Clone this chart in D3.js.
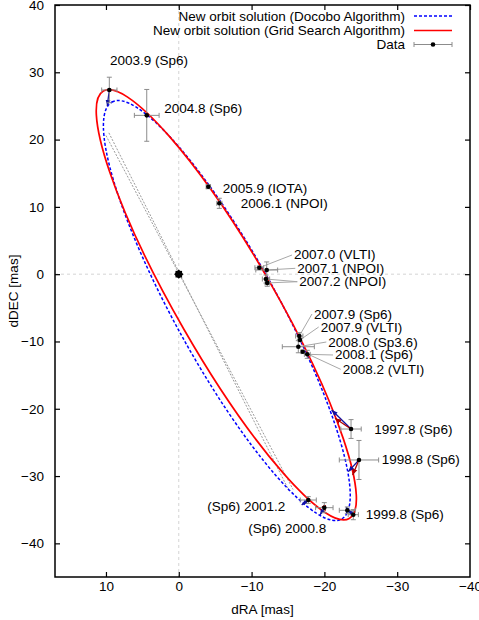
<!DOCTYPE html>
<html><head><meta charset="utf-8">
<script src="https://cdn.jsdelivr.net/npm/d3@7"></script>
<style>body{margin:0;background:#fff;} text{font-family:"Liberation Sans",Arial,Helvetica,sans-serif;}</style>
</head><body><svg id="c" width="479" height="620"></svg>
<script>
// ---------------- data ----------------
const xTicks = [10, 0, -10, -20, -30, -40];
const yTicks = [40, 30, 20, 10, 0, -10, -20, -30, -40];
const xLimits = [17, -40];
const yLimits = [-45, 40];
const seriesNames = ["New orbit solution (Docobo Algorithm)", "New orbit solution (Grid Search Algorithm)", "Data"];

// apparent orbit ellipses (Docobo, Grid Search), in mas / degrees
const orbitCenterRA  = [-6.6, -6.53];
const orbitCenterDEC = [-5.4, -4.55];
const orbitSemiMajor = [34.77, 35.97];
const orbitSemiMinor = [7.225, 6.85];
const orbitAngle     = [63.2, 62.14];   // from +dRA towards +dDEC
const nodeLineDocobo = [[10.0,20.6],[-15.7,-32.0]];
const nodeLineGrid   = [[9.6,21.0],[-15.2,-32.3]];

// observations
const obsRA     = [-23.66,-24.75,-23.15,-23.97,-19.99,-17.79, 9.54, 4.40,-4.06,-5.57,-11.06,-12.08,-11.98,-12.15,-16.55,-16.65,-16.42,-17.65,-17.02];
const obsDEC    = [-23.01,-27.61,-35.09,-35.74,-34.70,-33.56,27.37,23.60,13.00,10.53,  0.96,  0.62, -0.72, -1.30, -9.19, -9.78,-10.78,-11.91,-11.52];
const obsErrRA  = [ 1.40,  2.70,  1.10,  0.70,  1.20,  1.10, 1.05, 1.70, 0.30, 0.35,  0.60,  1.50,  0.50,  0.30,  0.50,  0.20,  2.20,  0.40,  0.20];
const obsErrDEC = [ 1.40,  2.90,  0.50,  0.75,  0.75,  0.50, 1.90, 3.85, 0.30, 0.75,  0.25,  1.20,  0.60,  0.50,  0.50,  0.20,  0.90,  0.60,  0.20];
// predicted positions (residual vectors) for some observations
const modelDocobo = [[-21.0,-20.18],[-23.28,-29.35],[-23.0,-34.6],[-23.2,-35.0],[-19.4,-35.79],[-16.88,-34.3],[9.82,24.99],null,null,null,null,null,null,null,null,null,null,null,null];
const modelGrid   = [[-21.46,-21.42],[-23.89,-29.84],null,null,[-20.1,-35.2],null,null,null,null,null,null,null,null,null,null,null,null,null,null];

// labels
const labelText = ["1997.8 (Sp6)","1998.8 (Sp6)","1999.8 (Sp6)","(Sp6) 2000.8","(Sp6) 2001.2","2003.9 (Sp6)","2004.8 (Sp6)","2005.9 (IOTA)","2006.1 (NPOI)","2007.0 (VLTI)","2007.1 (NPOI)","2007.2 (NPOI)","2007.9 (Sp6)","2007.9 (VLTI)","2008.0 (Sp3.6)","2008.1 (Sp6)","2008.2 (VLTI)"];
const labelRA   = [-26.86,-27.87,-25.67,-9.55,-3.92, 9.45, 1.99,-6.03,-8.50,-15.83,-16.28,-16.55,-18.57,-19.49,-20.54,-21.46,-22.52];
const labelDEC  = [-23.05,-27.61,-35.68,-37.76,-34.55,31.80,24.60,12.76,10.53, 2.85,  0.87, -1.12, -5.92, -7.85,-10.08,-12.01,-14.14];
const labelLeaders = [[],[],[],[],[],[],[],[],[],[10],[11],[12,13],[14],[15],[16],[17],[18]];

// ---------------- drawing ----------------
const svg = d3.select("#c");
const L = 55, R = 470, T = 5, B = 577;
const x = d3.scaleLinear().domain(xLimits).range([L, R]);
const y = d3.scaleLinear().domain(yLimits).range([B, T]);
const FS = "13.5px";

// zero lines
svg.append("line").attr("x1", x(0)).attr("x2", x(0)).attr("y1", T).attr("y2", B)
  .attr("stroke", "#d4d4d4").attr("stroke-dasharray", "3,3");
svg.append("line").attr("x1", L).attr("x2", R).attr("y1", y(0)).attr("y2", y(0))
  .attr("stroke", "#d4d4d4").attr("stroke-dasharray", "3,3");

// axes with inward ticks
const gx = svg.append("g").attr("transform", `translate(0,${B})`)
  .call(d3.axisBottom(x).tickValues(xTicks).tickSize(-5).tickPadding(4).tickFormat(d3.format("d")));
const gxt = svg.append("g").attr("transform", `translate(0,${T})`)
  .call(d3.axisTop(x).tickValues(xTicks).tickSize(-5).tickFormat(""));
const gy = svg.append("g").attr("transform", `translate(${L},0)`)
  .call(d3.axisLeft(y).tickValues(yTicks).tickSize(-5).tickPadding(11).tickFormat(d3.format("d")));
const gyr = svg.append("g").attr("transform", `translate(${R},0)`)
  .call(d3.axisRight(y).tickValues(yTicks).tickSize(-5).tickFormat(""));
[gx, gxt, gy, gyr].forEach(g => {
  g.select(".domain").remove();
  g.selectAll(".tick line").attr("stroke", "#000").attr("stroke-width", 1.2);
  g.selectAll("text").attr("font-size", FS).attr("fill", "#000")
    .style("font-family", '"Liberation Sans",Arial,Helvetica,sans-serif');
});
gx.selectAll(".tick").filter(d => d === -40).select("line").remove();

// node lines
const line = d3.line().x(d => x(d[0])).y(d => y(d[1]));
[nodeLineDocobo, nodeLineGrid].forEach(nl => {
  svg.append("path").attr("d", line(nl)).attr("fill", "none")
    .attr("stroke", "#9a9a9a").attr("stroke-width", 1).attr("stroke-dasharray", "2,1.5");
});

// orbits: map each data-space ellipse through the scales into a pixel-space ellipse
function pixelEllipse(i) {
  const t = orbitAngle[i] * Math.PI / 180, a = orbitSemiMajor[i], b = orbitSemiMinor[i];
  const kx = x(1) - x(0), ky = y(1) - y(0);
  const m11 = kx * Math.cos(t) * a, m12 = -kx * Math.sin(t) * b;
  const m21 = ky * Math.sin(t) * a, m22 = ky * Math.cos(t) * b;
  const E = (m11 + m22) / 2, F = (m11 - m22) / 2, G = (m21 + m12) / 2, H = (m21 - m12) / 2;
  const Q = Math.hypot(E, H), Rr = Math.hypot(F, G);
  const phi = (Math.atan2(H, E) + Math.atan2(G, F)) / 2;
  return { cx: x(orbitCenterRA[i]), cy: y(orbitCenterDEC[i]), rx: Q + Rr, ry: Math.abs(Q - Rr), rot: phi * 180 / Math.PI };
}
const orbitStyle = [
  { stroke: "#0000ff", width: 1.5, dash: "3,2" },
  { stroke: "#ff0000", width: 1.7, dash: null }
];
[0, 1].forEach(i => {
  const e = pixelEllipse(i);
  svg.append("ellipse").attr("cx", e.cx).attr("cy", e.cy).attr("rx", e.rx).attr("ry", e.ry)
    .attr("transform", `rotate(${e.rot},${e.cx},${e.cy})`)
    .attr("fill", "none").attr("stroke", orbitStyle[i].stroke).attr("stroke-width", orbitStyle[i].width)
    .attr("stroke-dasharray", orbitStyle[i].dash);
});

// arrow markers
const defs = svg.append("defs");
[["ab", "#1010a0"], ["ar", "#b00000"]].forEach(([id, col]) => {
  defs.append("marker").attr("id", id).attr("viewBox", "0 0 10 10").attr("refX", 10).attr("refY", 5)
    .attr("markerWidth", 6).attr("markerHeight", 6).attr("markerUnits", "userSpaceOnUse").attr("orient", "auto")
    .append("path").attr("d", "M0,1L10,5L0,9Z").attr("fill", col);
});

const idx = d3.range(obsRA.length);
// residual vectors
idx.forEach(i => {
  if (modelDocobo[i]) svg.append("line").attr("x1", x(obsRA[i])).attr("y1", y(obsDEC[i]))
    .attr("x2", x(modelDocobo[i][0])).attr("y2", y(modelDocobo[i][1]))
    .attr("stroke", "#1010a0").attr("stroke-width", 1.3).attr("marker-end", "url(#ab)");
  if (modelGrid[i]) svg.append("line").attr("x1", x(obsRA[i])).attr("y1", y(obsDEC[i]))
    .attr("x2", x(modelGrid[i][0])).attr("y2", y(modelGrid[i][1]))
    .attr("stroke", "#b00000").attr("stroke-width", 1.3).attr("marker-end", "url(#ar)");
});

// leader lines
labelText.forEach((t, j) => {
  labelLeaders[j].forEach(i => {
    svg.append("line").attr("x1", x(labelRA[j]) - 2).attr("y1", y(labelDEC[j]))
      .attr("x2", x(obsRA[i])).attr("y2", y(obsDEC[i]))
      .attr("stroke", "#a8a8a8").attr("stroke-width", 1);
  });
});

// error bars
const eb = svg.append("g").attr("stroke", "#8c8c8c").attr("stroke-width", 1).attr("fill", "none");
const cap = 2.5;
idx.forEach(i => {
  const cx = x(obsRA[i]), cy = y(obsDEC[i]);
  const x1 = x(obsRA[i] + obsErrRA[i]), x2 = x(obsRA[i] - obsErrRA[i]);
  const y1 = y(obsDEC[i] + obsErrDEC[i]), y2 = y(obsDEC[i] - obsErrDEC[i]);
  eb.append("path").attr("d",
    `M${x1},${cy}H${x2}M${x1},${cy-cap}V${cy+cap}M${x2},${cy-cap}V${cy+cap}` +
    `M${cx},${y1}V${y2}M${cx-cap},${y1}H${cx+cap}M${cx-cap},${y2}H${cx+cap}`);
});
// points
svg.append("g").selectAll("circle").data(idx).join("circle")
  .attr("cx", i => x(obsRA[i])).attr("cy", i => y(obsDEC[i])).attr("r", 2.3).attr("fill", "#000");

// central star
const sg = svg.append("g").attr("transform", `translate(${x(0)},${y(0)})`);
sg.append("rect").attr("x", -3.3).attr("y", -3.3).attr("width", 6.6).attr("height", 6.6).attr("fill", "#000");
sg.append("rect").attr("x", -3.3).attr("y", -3.3).attr("width", 6.6).attr("height", 6.6).attr("fill", "#000")
  .attr("transform", "rotate(45)");

// labels
svg.append("g").selectAll("text").data(labelText).join("text")
  .attr("x", (d, j) => x(labelRA[j])).attr("y", (d, j) => y(labelDEC[j]))
  .attr("dominant-baseline", "central").attr("font-size", FS).attr("fill", "#000").text(d => d);

// frame
svg.append("rect").attr("x", L).attr("y", T).attr("width", R - L).attr("height", B - T)
  .attr("fill", "none").attr("stroke", "#000").attr("stroke-width", 1.5);

// axis titles
svg.append("text").attr("x", (L + R) / 2).attr("y", 609).attr("text-anchor", "middle")
  .attr("dominant-baseline", "central").attr("font-size", FS).text("dRA [mas]");
svg.append("text").attr("transform", `translate(13,${(T + B) / 2}) rotate(-90)`).attr("text-anchor", "middle")
  .attr("dominant-baseline", "central").attr("font-size", FS).text("dDEC [mas]");

// legend
const lg = svg.append("g");
const rowsY = [16, 30.5, 44.5];
seriesNames.forEach((n, k) => {
  lg.append("text").attr("x", 405).attr("y", rowsY[k]).attr("text-anchor", "end")
    .attr("dominant-baseline", "central").attr("font-size", FS).text(n);
});
lg.append("line").attr("x1", 414).attr("x2", 452).attr("y1", rowsY[0]).attr("y2", rowsY[0])
  .attr("stroke", "#0000ff").attr("stroke-width", 1.5).attr("stroke-dasharray", "3,2");
lg.append("line").attr("x1", 414).attr("x2", 452).attr("y1", rowsY[1]).attr("y2", rowsY[1])
  .attr("stroke", "#ff0000").attr("stroke-width", 1.7);
lg.append("path").attr("d", `M414,${rowsY[2]}H452M414,${rowsY[2]-2.5}V${rowsY[2]+2.5}M452,${rowsY[2]-2.5}V${rowsY[2]+2.5}`)
  .attr("stroke", "#8c8c8c").attr("fill", "none");
lg.append("circle").attr("cx", 433).attr("cy", rowsY[2]).attr("r", 2.3).attr("fill", "#000");
</script></body></html>
